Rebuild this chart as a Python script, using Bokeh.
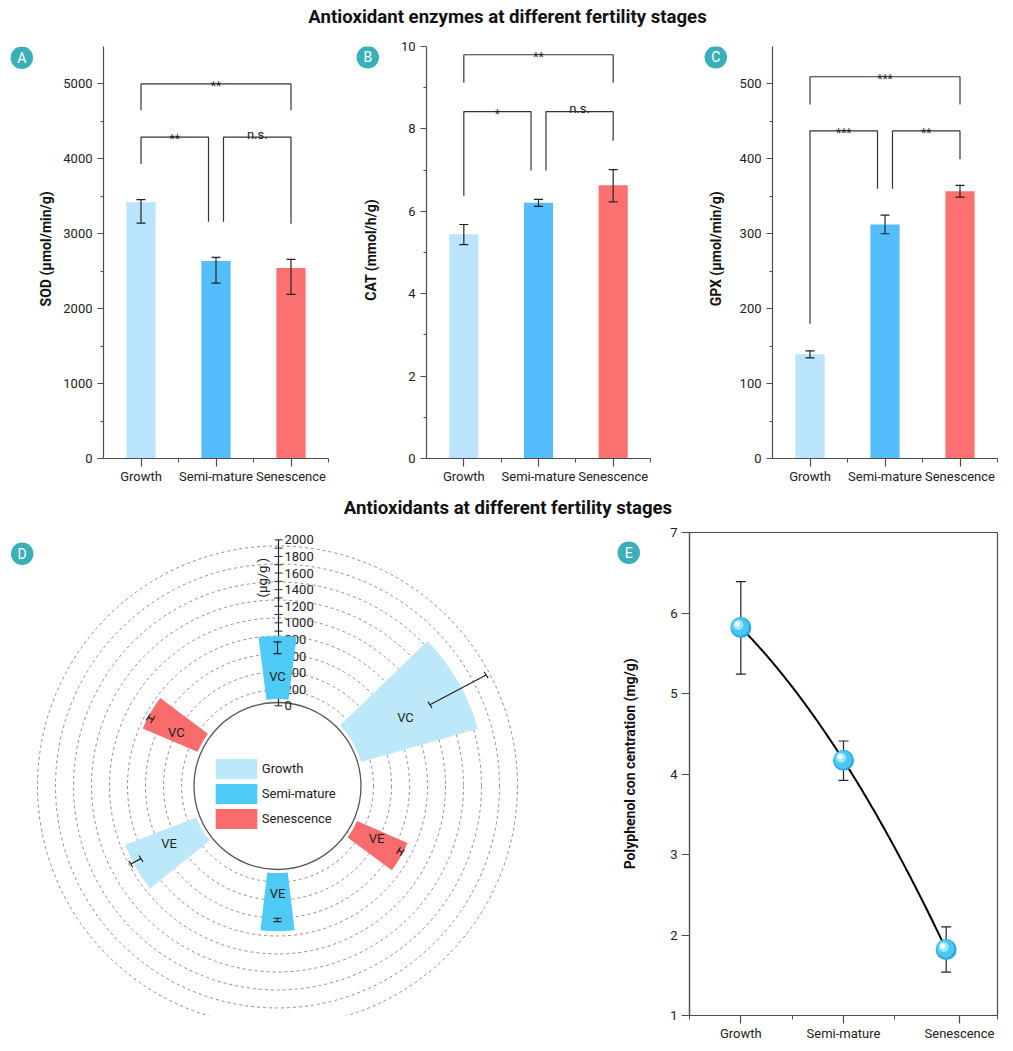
import numpy as np
from bokeh.plotting import figure
from bokeh.models import (Range1d, FixedTicker, ColumnDataSource, Whisker, TeeHead,
                          Legend, LegendItem)
from bokeh.layouts import column, row
from bokeh.core.properties import value, field
from bokeh.transform import dodge
from bokeh.embed import file_html
from bokeh.resources import INLINE

# ---------------- data ----------------
stages = ["Growth", "Semi-mature", "Senescence"]

sod_mean = [3420, 2636, 2542]
sod_low = [3142, 2342, 2191]
sod_high = [3457, 2684, 2657]
sod_ticks = [0, 1000, 2000, 3000, 4000, 5000]
sod_minor = [500, 1500, 2500, 3500, 4500]

cat_mean = [5.44, 6.21, 6.63]
cat_low = [5.19, 6.12, 6.23]
cat_high = [5.68, 6.29, 7.01]
cat_ticks = [0, 2, 4, 6, 8, 10]
cat_minor = [1, 3, 5, 7, 9]

gpx_mean = [139.3, 312.4, 356.9]
gpx_low = [134.4, 300.0, 349.0]
gpx_high = [143.8, 324.8, 364.5]
gpx_ticks = [0, 100, 200, 300, 400, 500]
gpx_minor = [50, 150, 250, 350, 450]

# significance brackets: from, to, bar height, left-leg end, right-leg end, text
sod_sig_from = [0, 0, 1.1]
sod_sig_to = [2, 0.9, 2]
sod_sig_top = [5000, 4290, 4290]
sod_sig_leg0 = [4650, 3933, 3160]
sod_sig_leg1 = [4650, 3160, 3133]
sod_sig_text = ["**", "**", "n.s."]

cat_sig_from = [0, 0, 1.1]
cat_sig_to = [2, 0.9, 2]
cat_sig_top = [9.80, 8.42, 8.42]
cat_sig_leg0 = [9.12, 6.38, 6.99]
cat_sig_leg1 = [9.12, 6.99, 7.71]
cat_sig_text = ["**", "*", "n.s."]

gpx_sig_from = [0, 0, 1.1]
gpx_sig_to = [2, 0.9, 2]
gpx_sig_top = [509.6, 437.3, 437.3]
gpx_sig_leg0 = [472.6, 179.8, 360.0]
gpx_sig_leg1 = [472.6, 360.0, 399.6]
gpx_sig_text = ["***", "***", "**"]

# antioxidant vitamins (polar bars), order around the circle
vit_labels = ["VC", "VC", "VC", "VE", "VE", "VE"]
vit_stage = [0, 1, 2, 0, 1, 2]
vit_mean = [1350, 700, 663, 850, 648, 611]
vit_err = [360, 70, 30, 65, 20, 25]
vit_ticks = list(range(0, 2001, 200))
vit_minor = list(range(0, 2001, 100))
vit_rings = [100, 300, 500, 700, 900, 1100, 1300, 1500, 1700]

# polyphenols
poly_mean = [5.82, 4.17, 1.82]
poly_low = [5.24, 3.92, 1.54]
poly_high = [6.39, 4.41, 2.10]
poly_x = [0.5, 1.5, 2.5]
poly_label_x = [0.5, 1.5, 2.63]
poly_ticks = [1, 2, 3, 4, 5, 6, 7]

# ---------------- styles ----------------
BG = "#F6FAFA"
AX = "#4D4D4D"
TXT = "#222222"
FONT = "Roboto"
TEAL = "#3AAFB9"
BAR_COLORS = ["#BAE4FC", "#54BEFC", "#FC7070"]
ROSE_COLORS = ["#BDE8F9", "#4DCAF6", "#F86C6E"]
ROW1_H = 456
ROW2_H = 524


def base_fig(**kw):
    p = figure(output_backend="svg", toolbar_location=None,
               background_fill_color=None, border_fill_color=None, **kw)
    p.outline_line_color = None
    p.xgrid.visible = False
    p.ygrid.visible = False
    return p


def plain_fig(width, height, **kw):
    return base_fig(width=width, height=height, min_border=0,
                    x_axis_location=None, y_axis_location=None, **kw)


def draw_badge(p, letter, x, y):
    p.scatter(x=[x], y=[y], size=22.5, fill_color=TEAL, line_color=None)
    p.text(x=[x], y=[y], text=[letter], text_color="white", text_font=value(FONT),
           text_font_size="14px", text_align="center", text_baseline="middle")


def side_fig(width, height, letter, bx, by_top, label, lx, ly_top):
    p = plain_fig(width, height, x_range=Range1d(0, width), y_range=Range1d(0, height))
    draw_badge(p, letter, bx, height - by_top)
    p.text(x=[lx], y=[height - ly_top], text=[label], angle=np.pi / 2, text_font=value(FONT),
           text_font_size="14px", text_font_style="bold", text_align="center",
           text_baseline="middle", text_color="#111111")
    return p


def style_axes(p):
    for ax in list(p.xaxis) + list(p.yaxis):
        ax.axis_line_color = AX
        ax.axis_line_width = 1.2
        ax.major_tick_line_color = AX
        ax.minor_tick_line_color = AX
        ax.major_tick_line_width = 1.2
        ax.minor_tick_line_width = 1.0
        ax.major_tick_in = 0
        ax.minor_tick_in = 0
        ax.major_label_text_font = FONT
        ax.major_label_text_font_size = "13px"
        ax.major_label_text_color = TXT


def bar_panel(mean, low, high, ymax, ticks, minor, sig, width, bl, br):
    p = base_fig(width=width, height=ROW1_H, x_range=Range1d(-0.5, 2.5), y_range=Range1d(0, ymax),
                 min_border_left=bl, min_border_right=br, min_border_top=12, min_border_bottom=32)
    src = ColumnDataSource(dict(x=[0, 1, 2], top=mean, low=low, high=high, color=BAR_COLORS))
    p.vbar(x="x", top="top", width=0.39, fill_color="color", line_color=None, source=src)
    p.add_layout(Whisker(source=src, base="x", lower="low", upper="high", level="annotation",
                         line_color=TXT, line_width=1.2,
                         upper_head=TeeHead(size=9, line_color=TXT, line_width=1.2),
                         lower_head=TeeHead(size=9, line_color=TXT, line_width=1.2)))
    x0, x1, top, l0, l1, txt = sig
    xs = [[a, a, b, b] for a, b in zip(x0, x1)]
    ys = [[la, t, t, lb] for la, t, lb in zip(l0, top, l1)]
    p.multi_line(xs=xs, ys=ys, line_color="#333333", line_width=1.2)
    tsrc = ColumnDataSource(dict(
        x=[(a + b) / 2 for a, b in zip(x0, x1)], y=top, text=txt,
        size=["13px" if t == "n.s." else "12px" for t in txt],
        off=[-3 if t == "n.s." else 2 for t in txt]))
    p.text(x="x", y="y", text="text", source=tsrc, text_font=value(FONT),
           text_font_size=field("size"), y_offset="off", text_align="center",
           text_baseline="alphabetic", text_color=TXT)
    p.xaxis.ticker = FixedTicker(ticks=[0, 1, 2], minor_ticks=[0.5, 1.5, 2.5])
    p.xaxis.major_label_overrides = {i: s for i, s in enumerate(stages)}
    p.yaxis.ticker = FixedTicker(ticks=ticks, minor_ticks=minor)
    style_axes(p)
    p.xaxis.major_tick_out = 8
    p.xaxis.minor_tick_out = 4
    p.xaxis.major_label_standoff = 2
    p.yaxis.major_tick_out = 6
    p.yaxis.minor_tick_out = 3
    p.yaxis.major_label_standoff = 5
    return p


ga = side_fig(60, ROW1_H, "A", 21.3, 12.5, "SOD (μmol/min/g)", 45, 224)
pa = bar_panel(sod_mean, sod_low, sod_high, 5500, sod_ticks, sod_minor,
               (sod_sig_from, sod_sig_to, sod_sig_top, sod_sig_leg0, sod_sig_leg1, sod_sig_text),
               285, 43, 17)
gb = side_fig(45, ROW1_H, "B", 22.3, 12, "CAT (mmol/h/g)", 25, 225)
pb = bar_panel(cat_mean, cat_low, cat_high, 10, cat_ticks, cat_minor,
               (cat_sig_from, cat_sig_to, cat_sig_top, cat_sig_leg0, cat_sig_leg1, cat_sig_text),
               300, 36, 40)
gc = side_fig(45, ROW1_H, "C", 25.3, 12, "GPX (μmol/min/g)", 25.7, 224)
pc = bar_panel(gpx_mean, gpx_low, gpx_high, 550, gpx_ticks, gpx_minor,
               (gpx_sig_from, gpx_sig_to, gpx_sig_top, gpx_sig_leg0, gpx_sig_leg1, gpx_sig_text),
               268, 37, 6)


def title_fig(text, h, x, y):
    p = plain_fig(1003, h, x_range=Range1d(0, 1003), y_range=Range1d(0, h))
    p.text(x=[x], y=[y], text=[text], text_font=value(FONT), text_font_style="bold",
           text_font_size="18.6px", text_align="center", text_baseline="middle",
           text_color="#111111")
    return p


t1 = title_fig("Antioxidant enzymes at different fertility stages", 34, 507, 17.3)
t2 = title_fig("Antioxidants at different fertility stages", 29, 507.5, 12)

# ---------------- panel D: polar bars ----------------
R0 = 87.0       # radius (px) of value 0
K = 0.09        # px per µg/g
HOLE = 83.5
DEG_PER_UNIT = 0.0208


def rad(v):
    return R0 + K * np.asarray(v, dtype=float)


pd_ = plain_fig(600, ROW2_H, x_range=Range1d(-277, 323), y_range=Range1d(-249, 275))
pd_.circle(x=[0] * len(vit_rings), y=[0] * len(vit_rings), radius=rad(vit_rings),
           fill_color=None, line_color="#8C8C8C", line_dash="3 3", line_width=1)
pd_.circle(x=[0], y=[0], radius=HOLE, fill_color=None, line_color="#555555", line_width=1.3)

# radial axis
AXX = 1.0
pd_.segment(x0=[AXX], y0=[rad(0)], x1=[AXX], y1=[rad(2000)], line_color=TXT, line_width=1.2)
mt = rad(vit_minor)
pd_.segment(x0=[AXX - 4] * len(mt), y0=mt, x1=[AXX + 4] * len(mt), y1=mt, line_color=TXT, line_width=1)
pd_.text(x=[AXX + 6] * len(vit_ticks), y=rad(vit_ticks), text=[str(t) for t in vit_ticks],
         text_font=value(FONT), text_font_size="13px", text_align="left", text_baseline="middle",
         text_color=TXT)
pd_.text(x=[-15], y=[226], text=["(μg/g )"], angle=np.pi / 2, text_font=value(FONT),
         text_font_size="13px", text_align="center", text_baseline="middle", text_color=TXT)

vm = np.asarray(vit_mean, dtype=float)
ve = np.asarray(vit_err, dtype=float)
ang = np.deg2rad(30 + 60 * np.arange(len(vm)))
half = np.deg2rad(vm * DEG_PER_UNIT / 2)

renderers = []
for s in range(3):
    idx = [i for i in range(len(vm)) if vit_stage[i] == s]
    src = ColumnDataSource(dict(
        inner=[float(rad(0))] * len(idx), outer=rad(vm[idx]),
        start=ang[idx] - half[idx], end=ang[idx] + half[idx]))
    r = pd_.annular_wedge(x=0, y=0, inner_radius="inner", outer_radius="outer",
                          start_angle="start", end_angle="end", source=src,
                          fill_color=ROSE_COLORS[s], line_color=None)
    renderers.append(r)

# error bars along the radius
r_lo = rad(vm - ve)
r_hi = rad(vm + ve)
c, sn = np.cos(ang), np.sin(ang)
pd_.segment(x0=r_lo * c, y0=r_lo * sn, x1=r_hi * c, y1=r_hi * sn, line_color=TXT, line_width=1.2)
CAP = 4.0
for rr in (r_lo, r_hi):
    pd_.segment(x0=rr * c - CAP * (-sn), y0=rr * sn - CAP * c,
                x1=rr * c + CAP * (-sn), y1=rr * sn + CAP * c, line_color=TXT, line_width=1.2)

r_mid = (rad(0) + rad(vm)) / 2
pd_.text(x=r_mid * c, y=r_mid * sn, text=vit_labels, text_font=value(FONT), text_font_size="13px",
         text_align="center", text_baseline="middle", text_color=TXT)

legend = Legend(items=[LegendItem(label=stages[s], renderers=[renderers[s]]) for s in range(3)],
                location=(209.8, 184), glyph_width=52, glyph_height=25, spacing=0, padding=0,
                margin=0, label_standoff=0, label_text_font=FONT, label_text_font_size="13px",
                label_text_color=TXT, border_line_color=None, background_fill_alpha=0)
pd_.add_layout(legend)
draw_badge(pd_, "D", -255.3, 252)

# ---------------- panel E: polyphenols ----------------
ge = side_fig(45, ROW2_H, "E", 28.3, 22, "Polyphenol con centration (mg/g)", 29.3, 251)
pe = base_fig(width=358, height=ROW2_H, x_range=Range1d(0, 3), y_range=Range1d(1, 7),
              min_border_left=44, min_border_right=6, min_border_top=13, min_border_bottom=25)
pe.outline_line_color = AX
pe.outline_line_width = 1.2

coef = np.polyfit(poly_x, poly_mean, 2)
xx = np.linspace(poly_x[0], poly_x[-1], 120)
pe.line(xx, np.polyval(coef, xx), line_color="black", line_width=2)

psrc = ColumnDataSource(dict(x=poly_x, y=poly_mean, low=poly_low, high=poly_high))
pe.add_layout(Whisker(source=psrc, base="x", lower="low", upper="high", level="underlay",
                      line_color=TXT, line_width=1.2,
                      upper_head=TeeHead(size=10, line_color=TXT, line_width=1.2),
                      lower_head=TeeHead(size=10, line_color=TXT, line_width=1.2)))
PXX = 3 / 308.0
PXY = 6 / 486.0
pe.scatter(x="x", y="y", source=psrc, size=21, fill_color="#2BA9E2", line_color=None)
pe.scatter(x=dodge("x", -0.8 * PXX, range=pe.x_range), y=dodge("y", 0.8 * PXY, range=pe.y_range),
           source=psrc, size=18, fill_color="#4CC7F5", line_color=None)
pe.scatter(x=dodge("x", -2.5 * PXX, range=pe.x_range), y=dodge("y", 2.5 * PXY, range=pe.y_range),
           source=psrc, size=10, fill_color="#A4E6FB", line_color=None)
pe.scatter(x=dodge("x", -3.5 * PXX, range=pe.x_range), y=dodge("y", 3.5 * PXY, range=pe.y_range),
           source=psrc, size=5, fill_color="#FFFFFF", line_color=None)

pe.xaxis.ticker = FixedTicker(ticks=poly_label_x, minor_ticks=[0, 1, 2, 3])
pe.xaxis.major_label_overrides = {t: s for t, s in zip(poly_label_x, stages)}
pe.yaxis.ticker = FixedTicker(ticks=poly_ticks, minor_ticks=[])
style_axes(pe)
pe.xaxis.major_tick_out = 8
pe.xaxis.minor_tick_out = 4
pe.xaxis.major_label_standoff = 2
pe.yaxis.major_tick_out = 8
pe.yaxis.major_label_standoff = 4

layout = column(t1, row(ga, pa, gb, pb, gc, pc), t2, row(pd_, ge, pe))
html = file_html(layout, INLINE, title="Antioxidants at different fertility stages")
html = html.replace("<body>", '<body style="background-color:%s;">' % BG, 1)
open("out.html", "w").write(html)
